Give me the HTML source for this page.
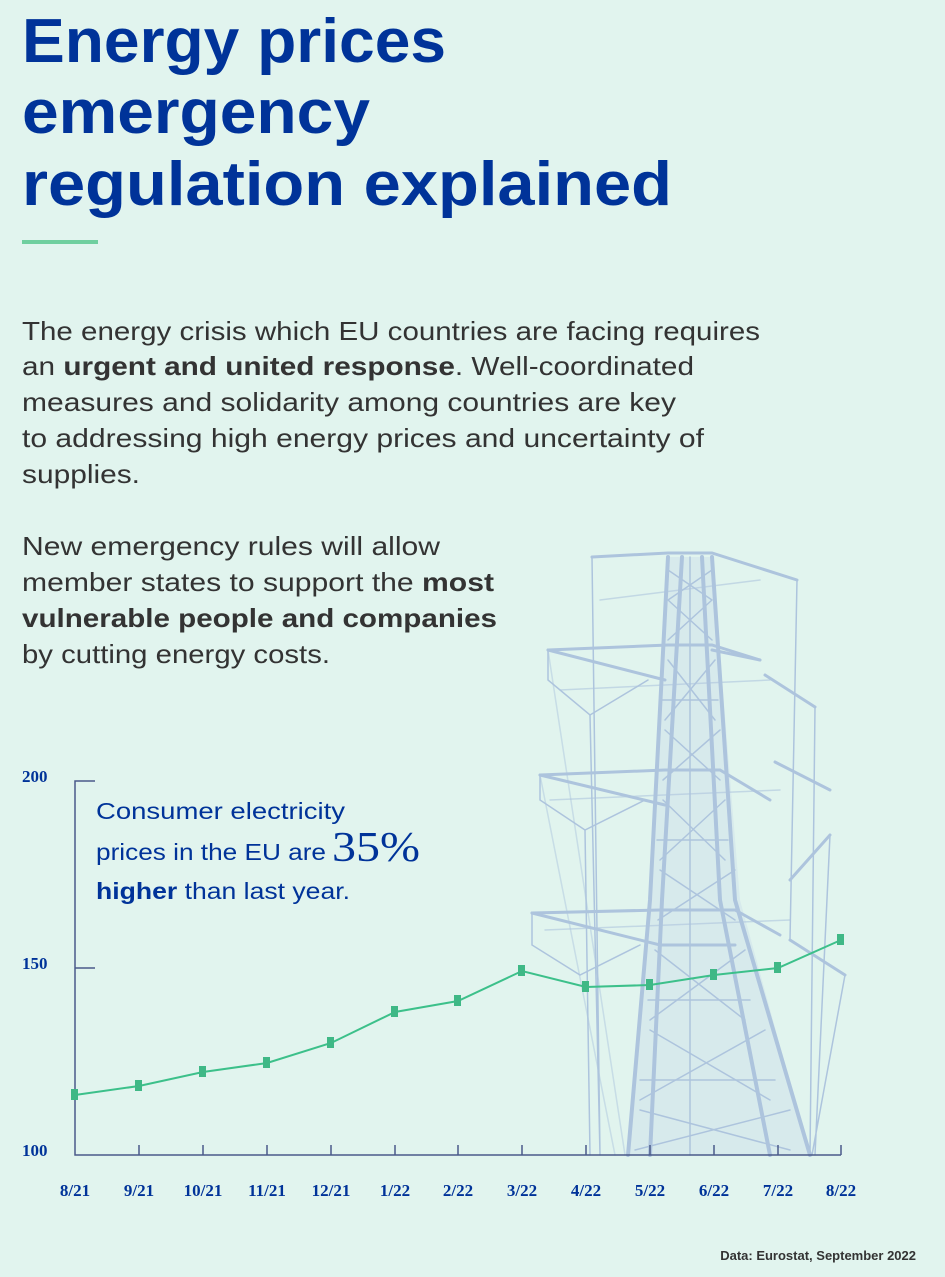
<!DOCTYPE html>
<html><head><meta charset="utf-8"><style>
html,body{margin:0;padding:0;background:#e1f4ee;}
svg{display:block}
</style></head><body>
<svg width="945" height="1277" viewBox="0 0 945 1277" xmlns="http://www.w3.org/2000/svg">
<rect width="945" height="1277" fill="#e1f4ee"/>
<g font-family="Liberation Sans, sans-serif" font-weight="bold" fill="#003399" font-size="62">
<text x="22" y="62" textLength="424" lengthAdjust="spacingAndGlyphs">Energy prices</text>
<text x="22" y="133" textLength="348" lengthAdjust="spacingAndGlyphs">emergency</text>
<text x="22" y="205" textLength="650" lengthAdjust="spacingAndGlyphs">regulation explained</text>
</g>
<rect x="22" y="240" width="76" height="4" fill="#6fcf9f"/>
<g font-family="Liberation Sans, sans-serif" fill="#333" font-size="26">
<text x="22" y="340" textLength="738" lengthAdjust="spacingAndGlyphs">The energy crisis which EU countries are facing requires</text>
<text x="22" y="375" textLength="672" lengthAdjust="spacingAndGlyphs">an <tspan font-weight="bold">urgent and united response</tspan>. Well-coordinated</text>
<text x="22" y="411" textLength="654" lengthAdjust="spacingAndGlyphs">measures and solidarity among countries are key</text>
<text x="22" y="447" textLength="682" lengthAdjust="spacingAndGlyphs">to addressing high energy prices and uncertainty of</text>
<text x="22" y="483" textLength="118" lengthAdjust="spacingAndGlyphs">supplies.</text>
<text x="22" y="555" textLength="418" lengthAdjust="spacingAndGlyphs">New emergency rules will allow</text>
<text x="22" y="591" textLength="472" lengthAdjust="spacingAndGlyphs">member states to support the <tspan font-weight="bold">most</tspan></text>
<text x="22" y="627" textLength="475" lengthAdjust="spacingAndGlyphs" font-weight="bold">vulnerable people and companies</text>
<text x="22" y="663" textLength="308" lengthAdjust="spacingAndGlyphs">by cutting energy costs.</text>
</g>
<!-- tower -->
<g stroke="#a8bfdc" fill="none" stroke-linecap="round" opacity="0.9">
<path d="M668 557 L712 557 L740 900 L810 1155 L628 1155 L650 900 Z" fill="#c9dbe8" stroke="none" opacity="0.45"/>
<g stroke-width="4">
<path d="M668 557 L650 900 L628 1155"/><path d="M712 557 L735 900 L810 1155"/>
<path d="M682 557 L662 900 L650 1155"/><path d="M702 557 L720 900 L770 1155"/>
</g>
<g stroke-width="3">
<path d="M592 557 L668 553 L712 553 L797 580"/>
<path d="M548 650 L668 645 L712 645 L760 660"/>
<path d="M548 650 L665 680"/><path d="M712 650 L760 660"/>
<path d="M540 775 L665 770 L720 770 L770 800"/>
<path d="M540 775 L665 805"/>
<path d="M532 913 L660 910 L735 910 L780 935"/>
<path d="M532 913 L660 945 L735 945"/>
<path d="M765 675 L815 707"/><path d="M775 762 L830 790"/><path d="M790 880 L830 835"/>
<path d="M790 940 L845 975"/>
</g>
<g stroke-width="1.5">
<path d="M668 570 L712 600 M712 570 L668 600 M668 600 L712 640 M712 600 L668 640 M668 660 L715 720 M715 660 L665 720 M665 730 L720 780 M720 730 L663 780"/>
<path d="M663 800 L725 860 M725 800 L660 860 M660 870 L735 920 M735 870 L658 920"/>
<path d="M655 950 L745 1020 M745 950 L650 1020 M650 1030 L770 1100 M765 1030 L640 1100 M640 1110 L790 1150 M790 1110 L635 1150"/>
<path d="M690 557 L690 1155 M660 700 L718 700 M657 840 L728 840 M648 1000 L750 1000 M640 1080 L775 1080"/>
<path d="M548 650 L548 680 L590 715 L648 680"/><path d="M540 775 L540 800 L585 830 L645 800"/>
<path d="M532 913 L532 945 L580 975 L640 945"/>
<path d="M592 557 L600 1155 M590 715 L600 1155 M585 830 L590 1155 M797 580 L790 940 M815 707 L810 1155 M830 835 L815 1155 M845 975 L812 1155"/>
<path d="M600 600 L760 580 M560 690 L770 680 M550 800 L780 790 M545 930 L790 920" opacity="0.6"/>
<path d="M548 650 L625 1155 M540 775 L615 1155" opacity="0.5"/>
</g>
</g>
<!-- axes -->
<g stroke="#4a5a8a" stroke-width="1.5" fill="none">
<path d="M95 781 L75 781 L75 1155 L841 1155"/>
<path d="M75 968 L95 968"/>
<path d="M139 1155v-10M203 1155v-10M267 1155v-10M331 1155v-10M395 1155v-10M458 1155v-10M522 1155v-10M586 1155v-10M650 1155v-10M714 1155v-10M778 1155v-10M841 1155v-10"/>
</g>
<g font-family="Liberation Serif, serif" font-weight="bold" fill="#003399" font-size="17">
<text x="22" y="782">200</text><text x="22" y="969">150</text><text x="22" y="1156">100</text>
<g text-anchor="middle">
<text x="75" y="1196">8/21</text><text x="139" y="1196">9/21</text><text x="203" y="1196">10/21</text><text x="267" y="1196">11/21</text><text x="331" y="1196">12/21</text><text x="395" y="1196">1/22</text><text x="458" y="1196">2/22</text><text x="522" y="1196">3/22</text><text x="586" y="1196">4/22</text><text x="650" y="1196">5/22</text><text x="714" y="1196">6/22</text><text x="778" y="1196">7/22</text><text x="841" y="1196">8/22</text>
</g></g>
<polyline fill="none" stroke="#3cc08a" stroke-width="2" points="75,1095 139,1086 203,1072 267,1063 331,1043 395,1012 458,1001 522,971 586,987 650,985 714,975 778,968 841,940"/>
<g fill="#3fb886">
<rect x="71" y="1089" width="7" height="11"/><rect x="135" y="1080" width="7" height="11"/><rect x="199" y="1066" width="7" height="11"/><rect x="263" y="1057" width="7" height="11"/><rect x="327" y="1037" width="7" height="11"/><rect x="391" y="1006" width="7" height="11"/><rect x="454" y="995" width="7" height="11"/><rect x="518" y="965" width="7" height="11"/><rect x="582" y="981" width="7" height="11"/><rect x="646" y="979" width="7" height="11"/><rect x="710" y="969" width="7" height="11"/><rect x="774" y="962" width="7" height="11"/><rect x="837" y="934" width="7" height="11"/>
</g>
<g font-family="Liberation Sans, sans-serif" fill="#003399" font-size="23">
<text x="96" y="819" textLength="249" lengthAdjust="spacingAndGlyphs">Consumer electricity</text>
<text x="96" y="860" textLength="230" lengthAdjust="spacingAndGlyphs">prices in the EU are</text>
<text x="332" y="861" font-family="Liberation Serif, serif" font-size="42" textLength="88" lengthAdjust="spacingAndGlyphs">35%</text>
<text x="96" y="899" textLength="254" lengthAdjust="spacingAndGlyphs"><tspan font-weight="bold">higher</tspan> than last year.</text>
</g>
<text x="916" y="1260" text-anchor="end" font-family="Liberation Sans, sans-serif" font-weight="bold" font-size="13" fill="#333">Data: Eurostat, September 2022</text>
</svg>
</body></html>
